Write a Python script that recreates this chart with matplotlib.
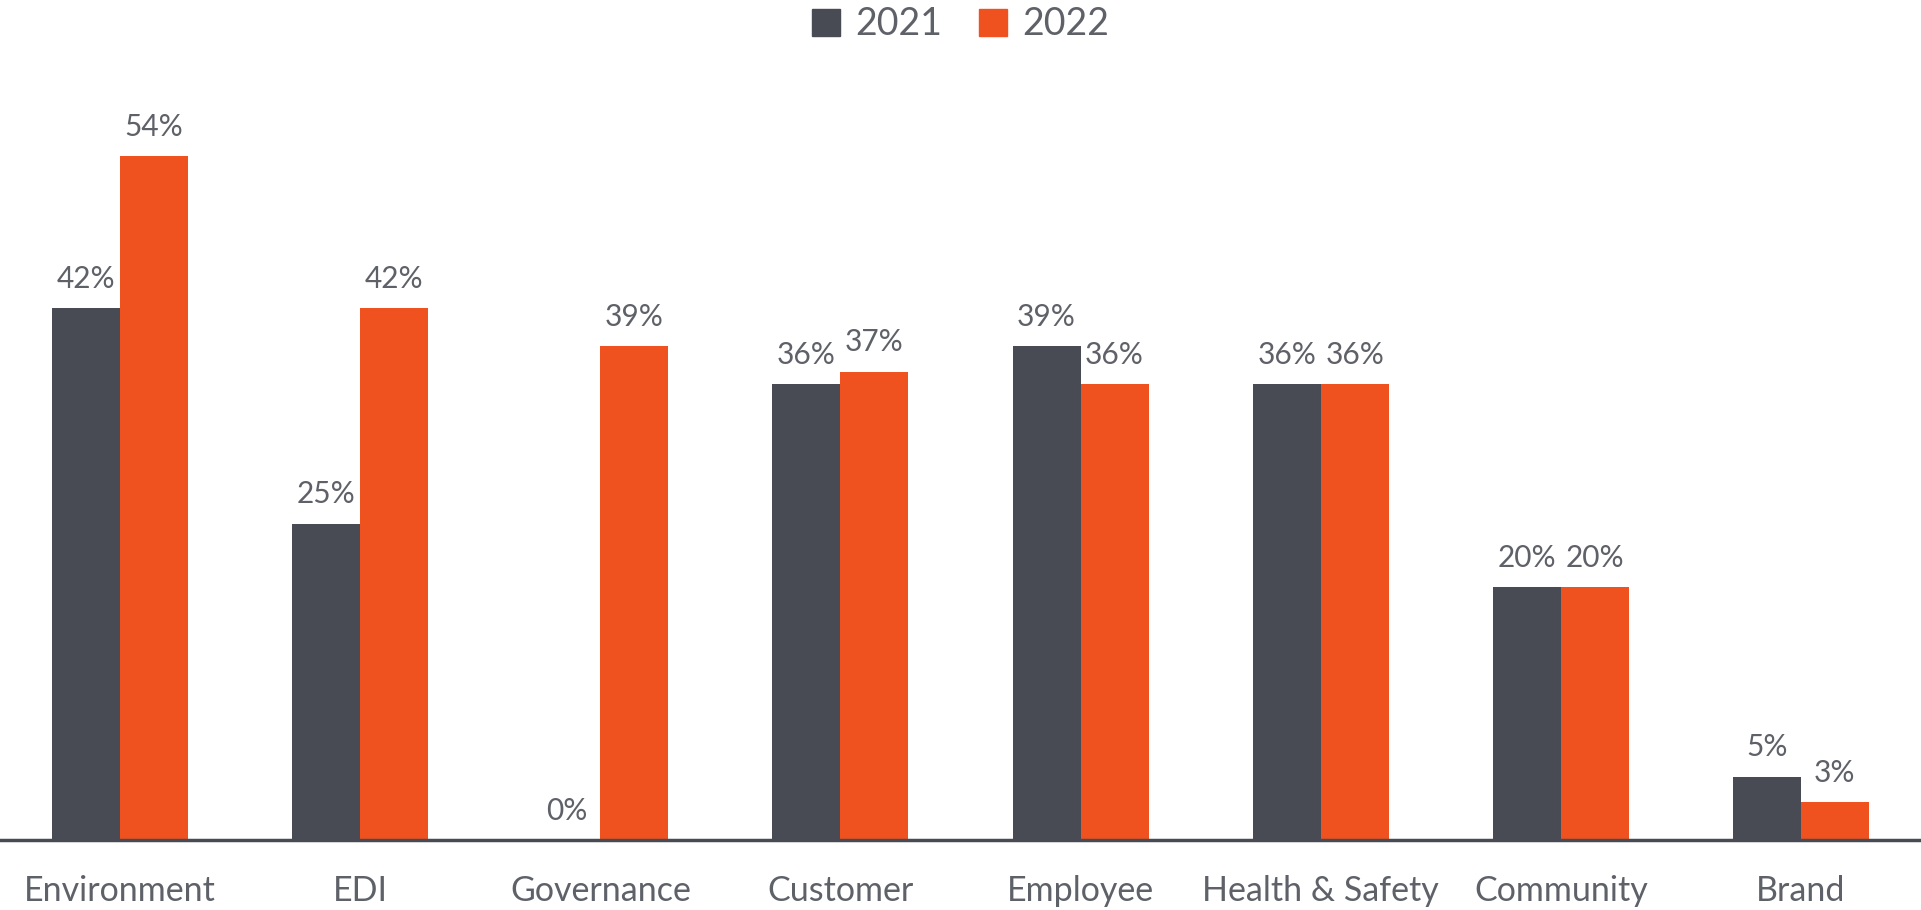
import matplotlib.pyplot as plt
from matplotlib.patches import Patch
import numpy as np

plt.rcParams['font.family'] = ['Lato', 'DejaVu Sans']

categories = ["Environment", "EDI", "Governance", "Customer", "Employee",
              "Health & Safety", "Community", "Brand"]
values_2021 = [42, 25, 0, 36, 39, 36, 20, 5]
values_2022 = [54, 42, 39, 37, 36, 36, 20, 3]
series_names = ["2021", "2022"]

dark = "#484B54"
orange = "#F0521F"
text_grey = "#5F6169"

fig = plt.figure(figsize=(19.21, 9.10), dpi=100)
ax = fig.add_axes([0, 1 - 840 / 910, 1, 740 / 910])

x = np.arange(len(categories))
w = 0.283
bars1 = ax.bar(x - w / 2, values_2021, w, color=dark, edgecolor="none")
bars2 = ax.bar(x + w / 2, values_2022, w, color=orange, edgecolor="none")

# percentage label above each bar
for bars, vals in [(bars1, values_2021), (bars2, values_2022)]:
    for b, v in zip(bars, vals):
        ax.annotate(f"{v}%", (b.get_x() + b.get_width() / 2, v),
                    xytext=(0, 11), textcoords="offset points",
                    ha="center", va="bottom", fontsize=21.5, color=text_grey)

ax.set_xlim(-0.5, len(categories) - 0.5)
ax.set_ylim(0, 740 / 12.66)
ax.set_xticks(x)
ax.set_xticklabels(categories, fontsize=24.5, color=text_grey)
ax.tick_params(axis="x", length=0, pad=25)
ax.set_yticks([])
for s in ["top", "right", "left"]:
    ax.spines[s].set_visible(False)
ax.spines["bottom"].set_color(dark)
ax.spines["bottom"].set_linewidth(2.5)

handles = [Patch(color=dark), Patch(color=orange)]
fig.legend(handles, series_names, loc="upper center", bbox_to_anchor=(0.5, 1.03),
           ncol=2, frameon=False, fontsize=27, labelcolor=text_grey,
           handlelength=0.75, handleheight=0.75, handletextpad=0.4, columnspacing=1.0)

fig.savefig("out.png", dpi=100)
